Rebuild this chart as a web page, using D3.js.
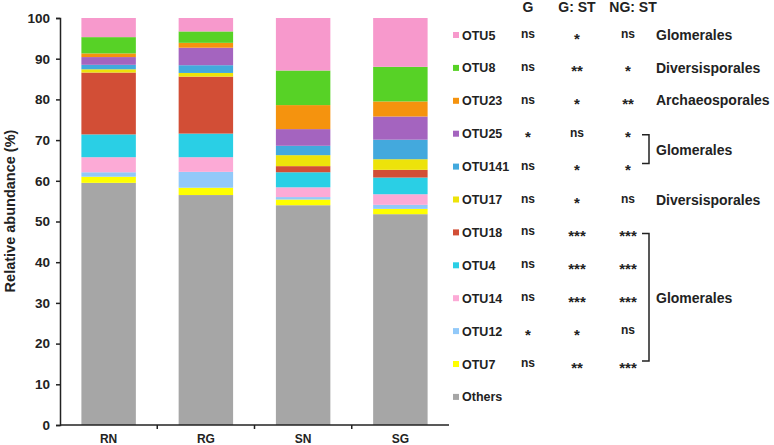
<!DOCTYPE html>
<html><head><meta charset="utf-8">
<script src="https://cdn.jsdelivr.net/npm/d3@7"></script>
<style>body{margin:0;background:#fff}svg{display:block}text{font-family:"Liberation Sans",Arial,sans-serif;font-weight:bold;fill:#222}</style>
</head><body>
<script>
const samples = ["RN","RG","SN","SG"];
const otus = ["Others","OTU7","OTU12","OTU14","OTU4","OTU18","OTU17","OTU141","OTU25","OTU23","OTU8","OTU5"];
const colors = ["#a6a6a6","#ffff00","#92c9f9","#fcaad6","#2acfe5","#d24e36","#ede30a","#43a9dd","#a464bf","#f5930e","#57d226","#f799cc"];
const Others = [59.5,56.5,54.0,51.8];
const OTU7   = [1.5,1.8,1.4,1.3];
const OTU12  = [1.1,3.9,0.6,1.0];
const OTU14  = [3.7,3.6,2.4,2.6];
const OTU4   = [5.6,5.8,3.7,4.1];
const OTU18  = [15.2,14.0,1.5,1.9];
const OTU17  = [0.8,0.9,2.7,2.6];
const OTU141 = [1.1,1.9,2.3,4.8];
const OTU25  = [1.9,4.3,4.1,5.7];
const OTU23  = [0.9,1.2,5.9,3.7];
const OTU8   = [4.0,2.8,8.5,8.5];
const OTU5   = [4.7,3.3,12.9,12.0];
const series = [Others,OTU7,OTU12,OTU14,OTU4,OTU18,OTU17,OTU141,OTU25,OTU23,OTU8,OTU5];
const yTicks = [0,10,20,30,40,50,60,70,80,90,100];
// legend/table (top to bottom)
const legendOrder = ["OTU5","OTU8","OTU23","OTU25","OTU141","OTU17","OTU18","OTU4","OTU14","OTU12","OTU7","Others"];
const colHeaders = ["G","G: ST","NG: ST"];
const sigG   = ["ns","ns","ns","*","ns","ns","ns","ns","ns","*","ns",""];
const sigGST = ["*","**","*","ns","*","*","***","***","***","*","**",""];
const sigNGST= ["ns","*","**","*","*","ns","***","***","***","ns","***",""];
const orders = [["Glomerales",0,0],["Diversisporales",1,1],["Archaeosporales",2,2],["Glomerales",3,4],["Diversisporales",5,5],["Glomerales",6,10]];

const W=774,H=445;
const svg=d3.select("body").append("svg").attr("width",W).attr("height",H);
const x=d3.scaleBand().domain(samples).range([60,449]).paddingInner(0.44).paddingOuter(0.22);
const y=d3.scaleLinear().domain([0,100]).range([425,18]);

const rows = samples.map((s,i)=>{const o={sample:s}; otus.forEach((k,j)=>o[k]=series[j][i]); return o;});
const stack=d3.stack().keys(otus)(rows);
const color=d3.scaleOrdinal().domain(otus).range(colors);

svg.append("g").selectAll("g").data(stack).join("g").attr("fill",d=>color(d.key))
  .selectAll("rect").data(d=>d).join("rect")
  .attr("x",d=>x(d.data.sample)).attr("width",x.bandwidth())
  .attr("y",d=>y(d[1])).attr("height",d=>y(d[0])-y(d[1]));

// y axis
const ya=svg.append("g").attr("transform","translate(60,0)")
  .call(d3.axisLeft(y).tickValues(yTicks).tickSize(4).tickPadding(6));
ya.select(".domain").attr("stroke","#222").attr("stroke-width",1.5);
ya.selectAll(".tick line").attr("stroke","#222").attr("stroke-width",1.5);
ya.selectAll("text").style("font-size","13.5px").style("font-family","Liberation Sans, Arial").style("font-weight","bold").attr("fill","#222");

// x axis
const xa=svg.append("g").attr("transform","translate(0,425)");
xa.append("line").attr("x1",60).attr("x2",449).attr("stroke","#222").attr("stroke-width",1.5);
const step=x.step();
samples.slice(1).forEach(s=>{const bx=x(s)-(step-x.bandwidth())/2;
  xa.append("line").attr("x1",bx).attr("x2",bx).attr("y1",0).attr("y2",4).attr("stroke","#222").attr("stroke-width",1.5);});
xa.selectAll("text.xl").data(samples).join("text").attr("class","xl")
  .attr("x",d=>x(d)+x.bandwidth()/2).attr("y",18).attr("text-anchor","middle").style("font-size","12px").text(d=>d);

svg.append("text").attr("transform","translate(15,211) rotate(-90)").attr("text-anchor","middle")
  .style("font-size","14.5px").text("Relative abundance (%)");

// legend + table
const rowY=i=>35+i*32.9;
const lg=svg.append("g");
legendOrder.forEach((k,i)=>{
  lg.append("rect").attr("x",453).attr("y",rowY(i)-3).attr("width",6).attr("height",6).attr("fill",color(k));
  lg.append("text").attr("x",462).attr("y",rowY(i)+4.5).style("font-size","12.5px").text(k);
});
const colX=[528,577,628];
colHeaders.forEach((h,i)=>lg.append("text").attr("x",[528,577,633][i]).attr("y",12).attr("text-anchor","middle").style("font-size","14px").text(h));
[sigG,sigGST,sigNGST].forEach((arr,c)=>arr.forEach((v,i)=>{
  if(!v) return;
  const star=v.startsWith("*");
  lg.append("text").attr("x",colX[c]).attr("y",rowY(i)+(star?8.5:3)).attr("text-anchor","middle")
    .style("font-size",star?"15px":"12px").text(v);
}));
orders.forEach(([name,a,b])=>{
  const ym=(rowY(a)+rowY(b))/2;
  lg.append("text").attr("x",656).attr("y",ym+(a===2?4:5)).style("font-size","14px").text(name);
  if(a!==b){
    const y1=rowY(a)+1,y2=rowY(b)-3;
    lg.append("path").attr("d",`M642,${y1}H649V${y2}H642`).attr("fill","none").attr("stroke","#222").attr("stroke-width",1.5);
  }
});
</script>
</body></html>
